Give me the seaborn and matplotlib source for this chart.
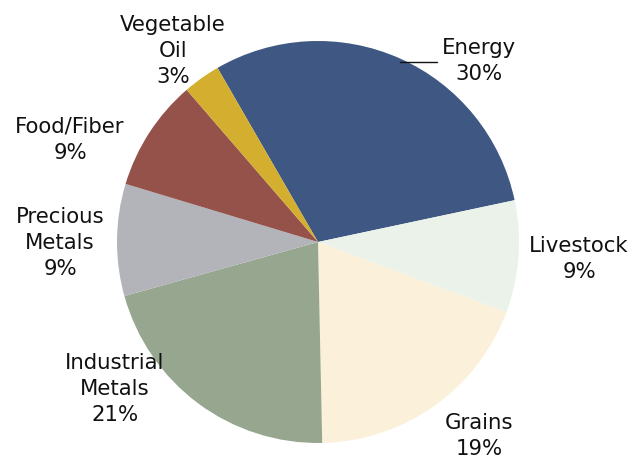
import matplotlib
matplotlib.use("Agg")
import matplotlib.pyplot as plt
import seaborn as sns

sns.set_theme(style="white")
plt.rcParams['font.family'] = ['DejaVu Sans']

categories = ["Energy", "Livestock", "Grains", "Industrial\nMetals",
              "Precious\nMetals", "Food/Fiber", "Vegetable\nOil"]
shares = [30, 9, 19, 21, 9, 9, 3]
colors = ["#3E5883", "#EBF2EA", "#FBF1DA", "#97A68E", "#B2B4BA", "#95524A", "#D4AE2E"]

W, H = 634, 462
fig = plt.figure(figsize=(W / 100, H / 100), dpi=100)
ax = fig.add_axes([0, 0, 1, 1])

cx, cy, r = 318, H - 242, 201
ax.pie(shares, colors=colors, startangle=120, counterclock=False,
       center=(cx, cy), radius=r, frame=True,
       wedgeprops=dict(linewidth=0, edgecolor="none"))
ax.set_xlim(0, W)
ax.set_ylim(0, H)
ax.set_aspect("equal")
ax.axis("off")

label_pos = [(479, 61), (579, 259), (479, 436), (115, 389),
             (60, 243), (70, 140), (173, 51)]
for cat, val, (x, y) in zip(categories, shares, label_pos):
    ax.text(x, H - y, f"{cat}\n{val}%", ha="center", va="center",
            fontsize=15.3, color="#111111", linespacing=1.4)

ax.plot([400, 437], [H - 62, H - 62], color="#111111", linewidth=1)

fig.savefig("out.png", dpi=100)
